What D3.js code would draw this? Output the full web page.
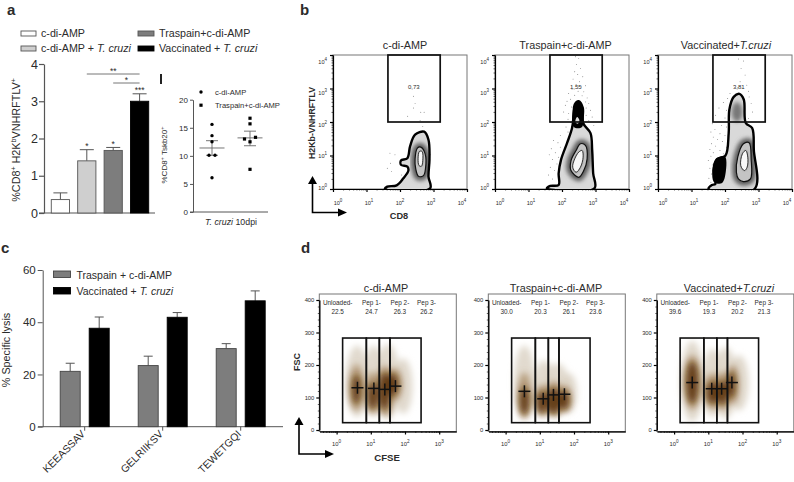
<!DOCTYPE html>
<html>
<head>
<meta charset="utf-8">
<script src="https://cdn.jsdelivr.net/npm/d3@7"></script>
<style>
  html, body { margin: 0; padding: 0; background: #fff; }
  svg { display: block; font-family: "Liberation Sans", Arial, sans-serif; }
  text { fill: #2b2b2b; }
</style>
</head>
<body>
<svg id="chart" width="794" height="482"></svg>
<script>
// panel a, bars
const aGroups = ['c-di-AMP', 'c-di-AMP + T. cruzi', 'Traspain+c-di-AMP', 'Vaccinated + T. cruzi'];
const aValues = [0.36, 1.4, 1.68, 3.0];
const aErrors = [0.54, 1.7, 1.76, 3.2];
const aStars = ['', '*', '*', '***'];
const aColors = ['#ffffff', '#cfcfcf', '#7d7d7d', '#000000'];

// panel a, dots
const dotGroups = ['c-di-AMP', 'Traspain+c-di-AMP'];
const dotValues = [
  [15.6, 13.6, 12.5, 10.1, 10.1, 6.1],
  [16.7, 15.7, 13.3, 13.0, 12.5, 7.6]
];
const dotMeans = [11.4, 13.2];
const dotSemHigh = [12.7, 14.4];
const dotSemLow = [10.1, 11.8];

// panel c
const cGroups = ['KEEASSAV', 'GELRIIKSV', 'TEWETGQI'];
const cSeries = ['Traspain + c-di-AMP', 'Vaccinated + T. cruzi'];
const cTraspain = [21.2, 23.4, 29.9];
const cVaccinated = [37.7, 41.9, 48.2];
const cTraspainErr = [24.3, 27.0, 31.8];
const cVaccinatedErr = [42.0, 43.7, 52.0];

// panel b, everything below is in log10 units
const bTitles = ['c-di-AMP', 'Traspain+c-di-AMP', 'Vaccinated+T.cruzi'];
const bGatePercent = ['0,73', '1,55', '3,81'];
const bGate = [1.64, 3.2, 2.0, 4.0];
const bOuter = [
  [[1.55,0],[1.62,.07],[1.9,.11],[2.1,.32],[2.25,.55],[2.22,.67],[2.03,.72],[2.03,.85],[2.22,.92],[2.3,1.27],[2.45,1.62],[2.72,1.71],[2.85,1.47],[2.88,.87],[2.85,.37],[2.9,.02]],
  [[1.55,.02],[1.65,.09],[1.9,.12],[1.9,.47],[1.97,.87],[2.15,1.37],[2.3,1.82],[2.35,2.22],[2.38,2.52],[2.5,2.62],[2.62,2.42],[2.63,1.97],[2.85,1.67],[2.9,1.17],[2.93,.47],[2.97,.02]],
  [[1.51,0],[1.61,.12],[1.71,.15],[1.66,.57],[1.76,.89],[2.01,.99],[2.11,1.67],[2.13,2.37],[2.26,2.75],[2.43,2.84],[2.56,2.67],[2.62,1.97],[2.81,1.82],[2.86,1.17],[2.88,0]]
];
const bMiddle = [
  [[2.45,.9],[2.52,1.22],[2.62,1.25],[2.75,1.05],[2.76,.6],[2.7,.4],[2.55,.38],[2.47,.6]],
  [[2.27,.55],[2.27,.85],[2.42,1.15],[2.55,1.35],[2.7,1.3],[2.75,.9],[2.65,.55],[2.5,.35]],
  [[2.34,.5],[2.38,.95],[2.55,1.35],[2.72,1.38],[2.78,.9],[2.76,.3],[2.55,.22],[2.4,.3]]
];
const bInner = [
  [[2.54,.9],[2.58,1.12],[2.66,1.12],[2.68,.85],[2.64,.68],[2.57,.7]],
  [[2.32,.65],[2.38,.9],[2.5,1.1],[2.6,1.15],[2.63,.95],[2.55,.65],[2.42,.5]],
  [[2.47,.7],[2.52,1.05],[2.62,1.15],[2.68,.95],[2.66,.65],[2.58,.55]]
];
const bSolid = [
  [],
  [[[2.35,1.85],[2.36,2.5],[2.5,2.62],[2.62,2.4],[2.6,1.85]]],
  [[[1.66,.22],[1.71,.87],[2.0,.97],[2.0,.37],[1.9,.17]]]
];
const bHole = [[], [[2.4,2.0],[2.45,2.15],[2.52,2.05],[2.47,1.95]], []];
const bDots = [
  [[2.40,2.77],[2.45,2.55],[2.40,2.42],[2.23,2.17],[2.62,2.29],[2.72,2.29],[2.68,1.87],[1.70,1.07],[1.85,1.02],[1.72,.77],[1.62,.62],[1.75,.52],[2.05,.87],[2.05,.42],[2.90,1.02],[2.60,2.05]],
  [[2.4,3.95],[2.5,3.9],[2.43,3.72],[2.55,3.6],[2.38,3.5],[2.47,3.42],[2.62,3.35],[2.33,3.28],[2.52,3.2],[2.42,3.12],[2.7,3.08],[2.58,3.05],[2.3,2.98],[2.48,2.92],[2.65,2.9],[2.2,2.85],[2.38,2.8],[2.6,2.78],[2.75,2.72],[2.25,2.68],[2.15,2.62],[2.7,2.6],[2.8,2.55],[2.1,2.5],[2.28,2.45],[2.72,2.42],[2.85,2.35],[2.05,2.3],[2.2,2.25],[2.72,2.2],[2.9,2.15],[2.18,2.08],[2.8,2.05],[2.25,1.98],[2.95,1.9],[2.12,1.85],[2.18,1.7],[1.95,1.6],[1.75,1.45],[1.88,1.38],[1.95,1.25],[1.68,1.2],[1.8,1.08],[1.62,1.02],[1.9,.95],[1.72,.88],[1.85,.75],[1.65,.65],[1.78,.55],[1.6,.42],[1.72,.3]],
  [[2.4,3.88],[2.55,3.82],[2.48,3.6],[2.6,3.4],[2.45,3.2],[2.65,3.1],[2.38,3.02],[2.7,2.92],[2.15,2.85],[2.72,2.75],[2.08,2.7],[1.95,2.58],[2.78,2.55],[1.82,2.42],[2.05,2.35],[2.82,2.3],[1.72,2.2],[2.0,2.12],[2.7,2.1],[1.62,1.95],[1.9,1.9],[2.05,1.85],[1.7,1.78],[1.58,1.7],[1.85,1.65],[2.0,1.6],[1.65,1.55],[1.78,1.48],[1.92,1.42],[1.6,1.35],[1.72,1.28],[2.05,1.25],[1.55,1.18],[1.85,1.15],[1.65,1.08],[1.95,1.05],[1.58,.98],[1.5,.85],[1.62,.72],[1.55,.62],[1.6,.45],[1.52,.32],[1.58,.2],[2.05,.25],[2.08,.55]]
];

// panel d, x in log10 units, y in FSC units
const dTitles = ['c-di-AMP', 'Traspain+c-di-AMP', 'Vaccinated+T.cruzi'];
const dPeaks = ['Unloaded-', 'Pep 1-', 'Pep 2-', 'Pep 3-'];
const dPeakAt = [0.03, 1.02, 1.85, 2.63];
const dPercent = [
  ['22.5', '24.7', '26.3', '26.2'],
  ['30.0', '20.3', '26.1', '23.6'],
  ['39.6', '19.3', '20.2', '21.3']
];
const dGateX = [0.176, 0.87, 1.25, 1.56, 2.47];
const dGateY = [22.5, 283];
const dCross = [
  [[0.61,130],[1.09,128],[1.41,125],[1.72,135]],
  [[0.55,119],[1.10,96],[1.40,108],[1.72,110]],
  [[0.53,146],[1.10,127],[1.39,127],[1.69,146]]
];
// [centre x, centre y, radius x, radius y]
const dHalo = [
  [[0.6,150,0.33,110],[1.08,150,0.3,110],[1.5,150,0.35,115],[1.95,135,0.27,85]],
  [[0.55,150,0.3,110],[1.12,135,0.3,80],[1.5,125,0.38,80],[1.85,115,0.24,60]],
  [[0.53,150,0.33,125],[1.12,145,0.3,105],[1.5,145,0.33,110],[1.9,145,0.28,85]]
];
const dMid = [
  [[0.58,130,0.22,72],[1.05,115,0.2,65],[1.42,120,0.26,78],[1.7,140,0.22,50]],
  [[0.55,105,0.2,72],[1.08,90,0.22,50],[1.42,95,0.26,55],[1.72,95,0.2,42]],
  [[0.53,146,0.24,85],[1.12,120,0.25,55],[1.42,120,0.25,58],[1.72,140,0.18,60]]
];
const dCore = [
  [[0.58,125,0.13,45],[1.05,105,0.14,42],[1.4,120,0.17,58],[1.64,140,0.16,34]],
  [[0.55,90,0.14,42],[1.05,85,0.15,34],[1.4,90,0.2,40],[1.72,92,0.14,30]],
  [[0.53,146,0.18,65],[1.12,115,0.18,34],[1.42,115,0.17,36],[1.68,140,0.11,40]]
];

const svg = d3.select('#chart');
const defs = svg.append('defs');
[['soft', 3.2], ['softer', 2], ['softest', 1]].forEach(([id, dev]) => {
  defs.append('filter').attr('id', id)
    .attr('x', '-40%').attr('y', '-40%').attr('width', '180%').attr('height', '180%')
    .append('feGaussianBlur').attr('stdDeviation', dev);
});

const letter = (t, x, y) => svg.append('text').attr('x', x).attr('y', y)
  .attr('font-size', 15).attr('font-weight', 'bold').attr('fill', '#111').text(t);
letter('a', 7, 15);
letter('b', 300, 15);
letter('c', 1, 253);
letter('d', 301, 253);

// T. cruzi in italics inside a longer label
function italicLabel(sel, label) {
  const parts = label.split(/(T\. ?cruzi)/);
  parts.forEach(p => {
    if (!p) return;
    sel.append('tspan').attr('font-style', /cruzi/.test(p) ? 'italic' : 'normal').text(p);
  });
  return sel;
}

function styleAxis(g, color, width) {
  g.selectAll('path, line').attr('stroke', color).attr('stroke-width', width);
  g.select('.domain').attr('fill', 'none');
}

// ---- panel a, bars ----
const aX = d3.scaleBand().domain(aGroups).range([46, 154]).paddingInner(0.31).paddingOuter(0.2);
const aY = d3.scaleLinear().domain([0, 4]).range([213, 64]);

const aAxisY = svg.append('g').attr('transform', 'translate(44,0)')
  .call(d3.axisLeft(aY).tickValues([0, 1, 2, 3, 4]).tickFormat(d3.format('d')).tickSize(5).tickSizeOuter(0));
styleAxis(aAxisY, '#555', 1.2);
aAxisY.selectAll('text').attr('font-size', 12.5).attr('x', -6);
svg.append('line').attr('x1', 39).attr('x2', 155).attr('y1', aY(0)).attr('y2', aY(0))
  .attr('stroke', '#555').attr('stroke-width', 1.2);

aGroups.forEach((g, i) => {
  const cx = aX(g) + aX.bandwidth() / 2;
  svg.append('line').attr('x1', cx).attr('x2', cx).attr('y1', aY(aValues[i])).attr('y2', aY(aErrors[i]))
    .attr('stroke', '#555').attr('stroke-width', 1);
  svg.append('line').attr('x1', cx - 7).attr('x2', cx + 7).attr('y1', aY(aErrors[i])).attr('y2', aY(aErrors[i]))
    .attr('stroke', '#555').attr('stroke-width', 1);
  svg.append('rect').attr('x', aX(g)).attr('y', aY(aValues[i]))
    .attr('width', aX.bandwidth()).attr('height', aY(0) - aY(aValues[i]))
    .attr('fill', aColors[i]).attr('stroke', i === 3 ? '#000' : '#555').attr('stroke-width', 0.9);
  if (aStars[i]) {
    svg.append('text').attr('x', cx).attr('y', aY(aErrors[i]) - 0.5).attr('text-anchor', 'middle')
      .attr('font-size', 8.5).text(aStars[i]);
  }
});

// significance lines
[[1, '**', 74], [2, '*', 83]].forEach(([from, star, y]) => {
  const x1 = aX(aGroups[from]) + aX.bandwidth() / 2;
  const x2 = aX(aGroups[3]) + aX.bandwidth() / 2;
  svg.append('line').attr('x1', x1).attr('x2', x2).attr('y1', y).attr('y2', y)
    .attr('stroke', '#666').attr('stroke-width', 0.9);
  svg.append('text').attr('x', (x1 + x2) / 2).attr('y', y - 0.5).attr('text-anchor', 'middle')
    .attr('font-size', 8.5).text(star);
});

const aLabel = svg.append('text').attr('transform', 'translate(20,140) rotate(-90)')
  .attr('text-anchor', 'middle').attr('font-size', 10.8);
aLabel.append('tspan').text('%CD8');
aLabel.append('tspan').attr('dy', -4).attr('font-size', 7).text('+');
aLabel.append('tspan').attr('dy', 4).text(' H2K');
aLabel.append('tspan').attr('dy', -4).attr('font-size', 7).text('b');
aLabel.append('tspan').attr('dy', 4).text('VNHRFTLV');
aLabel.append('tspan').attr('dy', -4).attr('font-size', 7).text('+');

// legend, two columns
aGroups.forEach((g, i) => {
  const col = i < 2 ? 0 : 1;
  const x = col === 0 ? 21 : 138;
  const y = (i === 0 || i === 2) ? 31 : 46;
  svg.append('rect').attr('x', x).attr('y', y).attr('width', col === 0 ? 15 : 16).attr('height', 5)
    .attr('fill', aColors[i]).attr('stroke', i === 3 ? '#000' : '#555').attr('stroke-width', 0.9);
  italicLabel(svg.append('text').attr('x', x + (col === 0 ? 20 : 21)).attr('y', y + 6).attr('font-size', 10.7), g);
});

// stray tick mark next to the dot plot
svg.append('line').attr('x1', 161).attr('x2', 161).attr('y1', 74).attr('y2', 84)
  .attr('stroke', '#222').attr('stroke-width', 2);

// ---- panel a, dots ----
const dotX = d3.scalePoint().domain(dotGroups).range([212, 250]);
const dotY = d3.scaleLinear().domain([0, 20]).range([212, 99.7]);

const dotAxisY = svg.append('g').attr('transform', 'translate(193,0)')
  .call(d3.axisLeft(dotY).tickValues([0, 5, 10, 15, 20]).tickSize(3).tickSizeOuter(0));
styleAxis(dotAxisY, '#555', 1);
dotAxisY.selectAll('text').attr('font-size', 8).attr('x', -5);
svg.append('line').attr('x1', 190).attr('x2', 268).attr('y1', dotY(0)).attr('y2', dotY(0))
  .attr('stroke', '#555').attr('stroke-width', 1);

// values that sit close together are put side by side
function dodge(values) {
  const sorted = values.slice().sort((a, b) => a - b);
  const out = [];
  let i = 0;
  while (i < sorted.length) {
    let j = i + 1;
    while (j < sorted.length && sorted[j] - sorted[j - 1] < 0.9) j++;
    const n = j - i;
    const offsets = n === 1 ? [0] : n === 2 ? [-3, 3] : [0, -5.5, 5.5];
    for (let k = i; k < j; k++) out.push({ v: sorted[k], dx: offsets[k - i] });
    i = j;
  }
  return out;
}

dotGroups.forEach((g, i) => {
  const cx = dotX(g);
  const semLines = [[dotMeans[i], 12.5], [dotSemHigh[i], 6], [dotSemLow[i], 6]];
  semLines.forEach(([v, hw]) => {
    svg.append('line').attr('x1', cx - hw).attr('x2', cx + hw).attr('y1', dotY(v)).attr('y2', dotY(v))
      .attr('stroke', '#666').attr('stroke-width', 0.9);
  });
  svg.append('line').attr('x1', cx).attr('x2', cx).attr('y1', dotY(dotSemLow[i])).attr('y2', dotY(dotSemHigh[i]))
    .attr('stroke', '#666').attr('stroke-width', 0.9);
  const pts = dodge(dotValues[i]);
  if (i === 0) {
    svg.selectAll('.d0').data(pts).enter().append('circle').attr('class', 'd0')
      .attr('cx', d => cx + d.dx).attr('cy', d => dotY(d.v)).attr('r', 1.7).attr('fill', '#000');
  } else {
    svg.selectAll('.d1').data(pts).enter().append('rect').attr('class', 'd1')
      .attr('x', d => cx + d.dx - 1.6).attr('y', d => dotY(d.v) - 1.6)
      .attr('width', 3.2).attr('height', 3.2).attr('fill', '#000');
  }
});

svg.append('circle').attr('cx', 201).attr('cy', 92).attr('r', 1.7).attr('fill', '#000');
svg.append('rect').attr('x', 199.4).attr('y', 103.6).attr('width', 3.2).attr('height', 3.2).attr('fill', '#000');
svg.append('text').attr('x', 215).attr('y', 95).attr('font-size', 7.6).text(dotGroups[0]);
svg.append('text').attr('x', 215).attr('y', 108).attr('font-size', 7.6).text(dotGroups[1]);

const dotLabel = svg.append('text').attr('transform', 'translate(167,155) rotate(-90)')
  .attr('text-anchor', 'middle').attr('font-size', 8);
dotLabel.append('tspan').text('%CD8');
dotLabel.append('tspan').attr('dy', -3).attr('font-size', 5.5).text('+');
dotLabel.append('tspan').attr('dy', 3).text(' Tskb20');
dotLabel.append('tspan').attr('dy', -3).attr('font-size', 5.5).text('+');

const dpi = svg.append('text').attr('x', 231).attr('y', 225).attr('text-anchor', 'middle').attr('font-size', 8.8);
dpi.append('tspan').attr('font-style', 'italic').text('T. cruzi');
dpi.append('tspan').text(' 10dpi');

// ---- panel c ----
const cX = d3.scaleBand().domain(cGroups).range([45.7, 279.7]);
const cSub = d3.scaleBand().domain(cSeries).range([0, 49]).paddingInner(0.31);
const cY = d3.scaleLinear().domain([0, 60]).range([426.7, 270]);
const cValues = [cTraspain, cVaccinated];
const cErrors = [cTraspainErr, cVaccinatedErr];
const cColors = ['#7d7d7d', '#000000'];

const cAxisY = svg.append('g').attr('transform', 'translate(42.7,0)')
  .call(d3.axisLeft(cY).tickValues([0, 20, 40, 60]).tickSize(5).tickSizeOuter(0));
styleAxis(cAxisY, '#555', 1);
cAxisY.selectAll('text').attr('font-size', 11.5).attr('x', -7);

const cAxisX = svg.append('g').attr('transform', `translate(0,${cY(0)})`)
  .call(d3.axisBottom(cX).tickSize(4).tickSizeOuter(0));
styleAxis(cAxisX, '#555', 1);
cAxisX.select('.domain').attr('d', 'M38,0H283');
cAxisX.selectAll('text').attr('font-size', 10.4)
  .attr('text-anchor', 'end').attr('dx', 0).attr('dy', 0)
  .attr('transform', 'translate(1,8) rotate(-45)').attr('y', 0).attr('x', 0);

cSeries.forEach((s, si) => {
  cGroups.forEach((g, i) => {
    const x = cX(g) + (cX.bandwidth() - 49) / 2 + cSub(s);
    const cx = x + cSub.bandwidth() / 2;
    svg.append('line').attr('x1', cx).attr('x2', cx).attr('y1', cY(cValues[si][i])).attr('y2', cY(cErrors[si][i]))
      .attr('stroke', '#555').attr('stroke-width', 1);
    svg.append('line').attr('x1', cx - 4.5).attr('x2', cx + 4.5).attr('y1', cY(cErrors[si][i])).attr('y2', cY(cErrors[si][i]))
      .attr('stroke', '#555').attr('stroke-width', 1);
    svg.append('rect').attr('x', x).attr('y', cY(cValues[si][i]))
      .attr('width', cSub.bandwidth()).attr('height', cY(0) - cY(cValues[si][i]))
      .attr('fill', cColors[si]).attr('stroke', si ? '#000' : '#444').attr('stroke-width', 0.9);
  });
  svg.append('rect').attr('x', 53.5).attr('y', 271 + si * 16.5).attr('width', 17).attr('height', 6.5)
    .attr('fill', cColors[si]).attr('stroke', si ? '#000' : '#444').attr('stroke-width', 0.9);
  italicLabel(svg.append('text').attr('x', 76.5).attr('y', 278.5 + si * 16).attr('font-size', 10.5), s);
});

svg.append('text').attr('transform', 'translate(10,350) rotate(-90)')
  .attr('text-anchor', 'middle').attr('font-size', 10.8).text('% Specific lysis');

// ---- flow plots, shared bits ----
const minorTicks = (lo, hi) => {
  const out = [];
  for (let d = lo; d < hi; d++) for (let k = 2; k < 10; k++) out.push(d + Math.log10(k));
  return out;
};

function powerLabel(g, x, y, exp, size, anchor) {
  const t = g.append('text').attr('x', x).attr('y', y).attr('text-anchor', anchor || 'middle')
    .attr('font-size', size).attr('fill', '#333');
  t.append('tspan').text('10');
  t.append('tspan').attr('dy', -3).attr('font-size', size * 0.8).text(exp);
}

function arrows(x, yTop, y, xRight) {
  svg.append('path').attr('fill', 'none').attr('stroke', '#000').attr('stroke-width', 1.6)
    .attr('d', `M${x},${yTop + 6}V${y}H${xRight - 6}`);
  svg.append('path').attr('fill', '#000').attr('d', `M${x - 4.5},${yTop + 8}L${x},${yTop}L${x + 4.5},${yTop + 8}Z`);
  svg.append('path').attr('fill', '#000').attr('d', `M${xRight - 9},${y - 4}L${xRight},${y}L${xRight - 9},${y + 4}Z`);
}

// ---- panel b ----
const bLeft = [333, 495, 658];
bTitles.forEach((title, p) => {
  const g = svg.append('g');
  const x = d3.scaleLinear().domain([0, 4]).range([bLeft[p], bLeft[p] + 134]);
  const y = d3.scaleLinear().domain([0, 4]).range([189, 55]);
  const curve = d3.line().x(d => x(d[0])).y(d => y(d[1])).curve(d3.curveCatmullRomClosed.alpha(0.5));

  defs.append('clipPath').attr('id', `plot${p}`).append('rect')
    .attr('x', x(0)).attr('y', y(4)).attr('width', 134).attr('height', 134);
  defs.append('clipPath').attr('id', `outer${p}`).append('path').attr('d', curve(bOuter[p]));

  g.append('rect').attr('x', x(0)).attr('y', y(4)).attr('width', 134).attr('height', 134)
    .attr('fill', '#fff').attr('stroke', '#777').attr('stroke-width', 1);

  g.selectAll('.bdot').data(bDots[p]).enter().append('circle').attr('class', 'bdot')
    .attr('cx', d => x(d[0])).attr('cy', d => y(d[1])).attr('r', 0.45).attr('fill', '#444');

  const blob = g.append('g').attr('clip-path', `url(#plot${p})`);
  blob.append('path').attr('d', curve(bOuter[p])).attr('fill', '#d9d9d9').attr('stroke', 'none');
  // shading runs darker towards the middle contour
  blob.append('g').attr('clip-path', `url(#outer${p})`).append('path').attr('d', curve(bMiddle[p]))
    .attr('fill', 'none').attr('stroke', '#5a5a5a').attr('stroke-width', 8).attr('filter', 'url(#softer)');
  blob.append('path').attr('d', curve(bMiddle[p])).attr('fill', '#c4c4c4').attr('stroke', '#111').attr('stroke-width', 1.2);
  blob.append('path').attr('d', curve(bInner[p])).attr('fill', '#7d7d7d').attr('stroke', 'none').attr('filter', 'url(#softest)');
  blob.append('path').attr('d', curve(bInner[p])).attr('fill', '#f8f8f8').attr('stroke', '#222').attr('stroke-width', 0.9);
  if (p === 2) {
    // grey lobe above the main population
    blob.append('ellipse').attr('cx', x(2.36)).attr('cy', y(2.3)).attr('rx', 5.5).attr('ry', 10)
      .attr('fill', '#777').attr('filter', 'url(#softer)');
  }
  blob.append('path').attr('d', curve(bOuter[p])).attr('fill', 'none').attr('stroke', '#000').attr('stroke-width', 2.4);
  bSolid[p].forEach(s => blob.append('path').attr('d', curve(s)).attr('fill', '#000'));
  if (bHole[p].length) blob.append('path').attr('d', curve(bHole[p])).attr('fill', '#ddd');

  // gate
  g.append('rect').attr('x', x(bGate[0])).attr('y', y(bGate[3]))
    .attr('width', x(bGate[1]) - x(bGate[0])).attr('height', y(bGate[2]) - y(bGate[3]))
    .attr('fill', 'none').attr('stroke', '#111').attr('stroke-width', 1.7);
  g.append('text').attr('x', x(2.41)).attr('y', y(3.0)).attr('text-anchor', 'middle')
    .attr('font-size', 6).text(bGatePercent[p]);

  // axes
  const ax = g.append('g').attr('transform', `translate(0,${y(0)})`)
    .call(d3.axisBottom(x).tickValues([0, 1, 2, 3, 4]).tickFormat('').tickSize(3).tickSizeOuter(0));
  styleAxis(ax, '#000', 1.2);
  const axM = g.append('g').attr('transform', `translate(0,${y(0)})`)
    .call(d3.axisBottom(x).tickValues(minorTicks(0, 4)).tickFormat('').tickSize(1.5).tickSizeOuter(0));
  styleAxis(axM, '#000', 0.6);
  const ay = g.append('g').attr('transform', `translate(${x(0)},0)`)
    .call(d3.axisLeft(y).tickValues([0, 1, 2, 3, 4]).tickFormat('').tickSize(3).tickSizeOuter(0));
  styleAxis(ay, '#000', 1.2);
  const ayM = g.append('g').attr('transform', `translate(${x(0)},0)`)
    .call(d3.axisLeft(y).tickValues(minorTicks(0, 4)).tickFormat('').tickSize(1.5).tickSizeOuter(0));
  styleAxis(ayM, '#000', 0.6);

  // tick labels sit slightly inside the tick positions, as in the source
  const labelX = d3.scaleLinear().domain([0, 4]).range([bLeft[p] + 5, bLeft[p] + 129]);
  const labelY = d3.scaleLinear().domain([0, 4]).range([189.5, 64]);
  d3.range(5).forEach(e => {
    powerLabel(g, labelX(e), 205, e, 5.6);
    powerLabel(g, bLeft[p] - 6, labelY(e), e, 5.6, 'end');
  });

  italicLabel(g.append('text').attr('x', bLeft[p] + (p === 0 ? 72 : p === 1 ? 70.5 : 68)).attr('y', 49)
    .attr('text-anchor', 'middle').attr('font-size', 10.8), title);
});
svg.append('text').attr('x', 399).attr('y', 219).attr('text-anchor', 'middle')
  .attr('font-size', 9.2).attr('font-weight', 'bold').attr('fill', '#111').text('CD8');
svg.append('text').attr('transform', 'translate(314.5,123) rotate(-90)').attr('text-anchor', 'middle')
  .attr('font-size', 8.8).attr('font-weight', 'bold').attr('fill', '#111').text('H2Kb-VNHRFTLV');
arrows(312.5, 176, 212.5, 347);

// ---- panel d ----
const dLeft = [319.3, 488.3, 656.8];
dTitles.forEach((title, p) => {
  const g = svg.append('g');
  const L = dLeft[p];
  const x = d3.scaleLinear().domain([0, 3]).range([L + 17.3, L + 17.3 + 102.6]);
  const y = d3.scaleLinear().domain([0, 400]).range([430, 300]);

  g.append('rect').attr('x', L).attr('y', 294).attr('width', 137).attr('height', 137.5)
    .attr('fill', '#fff').attr('stroke', '#777').attr('stroke-width', 1);

  const layer = (rows, color, opacity) => {
    const l = g.append('g').attr('filter', 'url(#soft)');
    l.selectAll('ellipse').data(rows).enter().append('ellipse')
      .attr('cx', d => x(d[0])).attr('cy', d => y(d[1]))
      .attr('rx', d => x(d[2]) - x(0)).attr('ry', d => y(0) - y(d[3]))
      .attr('fill', color).attr('opacity', opacity);
  };
  layer(dHalo[p], '#dcd3c6', 0.85);
  layer(dMid[p], '#a88a62', 0.75);
  layer(dCore[p], '#5c3308', 0.9);

  // gates
  dGateX.slice(0, -1).forEach((gx, i) => {
    g.append('rect').attr('x', x(gx)).attr('y', y(dGateY[1]))
      .attr('width', x(dGateX[i + 1]) - x(gx)).attr('height', y(dGateY[0]) - y(dGateY[1]))
      .attr('fill', 'none').attr('stroke', '#111').attr('stroke-width', 1.6);
  });

  // population medians
  dCross[p].forEach(c => {
    g.append('line').attr('x1', x(c[0]) - 6).attr('x2', x(c[0]) + 6).attr('y1', y(c[1])).attr('y2', y(c[1]))
      .attr('stroke', '#111').attr('stroke-width', 1.5);
    g.append('line').attr('x1', x(c[0])).attr('x2', x(c[0])).attr('y1', y(c[1]) - 6).attr('y2', y(c[1]) + 6)
      .attr('stroke', '#111').attr('stroke-width', 1.5);
  });

  dPeaks.forEach((pk, i) => {
    g.append('text').attr('x', x(dPeakAt[i])).attr('y', 305).attr('text-anchor', 'middle')
      .attr('font-size', 6.4).text(pk);
    g.append('text').attr('x', x(dPeakAt[i])).attr('y', 313.5).attr('text-anchor', 'middle')
      .attr('font-size', 6.4).text(dPercent[p][i]);
  });

  // axes
  const x2 = d3.scaleLinear().domain([-0.5, 3.5]).range([x(-0.5), x(3.5)]);
  const ax = g.append('g').attr('transform', 'translate(0,431.5)')
    .call(d3.axisBottom(x2).tickValues([0, 1, 2, 3]).tickFormat('').tickSize(3).tickSizeOuter(0));
  styleAxis(ax, '#000', 1.2);
  const axM = g.append('g').attr('transform', 'translate(0,431.5)')
    .call(d3.axisBottom(x2).tickValues(minorTicks(-1, 3).filter(v => v > -0.5)).tickFormat('').tickSize(1.5).tickSizeOuter(0));
  styleAxis(axM, '#000', 0.6);
  const ay = g.append('g').attr('transform', `translate(${L},0)`)
    .call(d3.axisLeft(y).tickValues([0, 100, 200, 300, 400]).tickSize(3).tickSizeOuter(0));
  styleAxis(ay, '#000', 1.2);
  ay.selectAll('text').attr('font-size', 5.8).attr('x', -5).attr('fill', '#333');
  const ayM = g.append('g').attr('transform', `translate(${L},0)`)
    .call(d3.axisLeft(y).tickValues(d3.range(0, 400, 20).filter(v => v % 100)).tickFormat('').tickSize(1.5).tickSizeOuter(0));
  styleAxis(ayM, '#000', 0.6);

  d3.range(4).forEach(e => powerLabel(g, x(e), 445.5, e, 5.8));

  italicLabel(g.append('text').attr('x', L + (p === 0 ? 66.7 : p === 1 ? 67.7 : 72.2)).attr('y', 292)
    .attr('text-anchor', 'middle').attr('font-size', 10.8), title);
});
svg.append('text').attr('x', 387).attr('y', 461).attr('text-anchor', 'middle')
  .attr('font-size', 9.6).attr('font-weight', 'bold').attr('fill', '#111').text('CFSE');
svg.append('text').attr('transform', 'translate(300,362) rotate(-90)').attr('text-anchor', 'middle')
  .attr('font-size', 9).attr('font-weight', 'bold').attr('fill', '#111').text('FSC');
arrows(299, 417, 454, 334);
</script>
</body>
</html>
